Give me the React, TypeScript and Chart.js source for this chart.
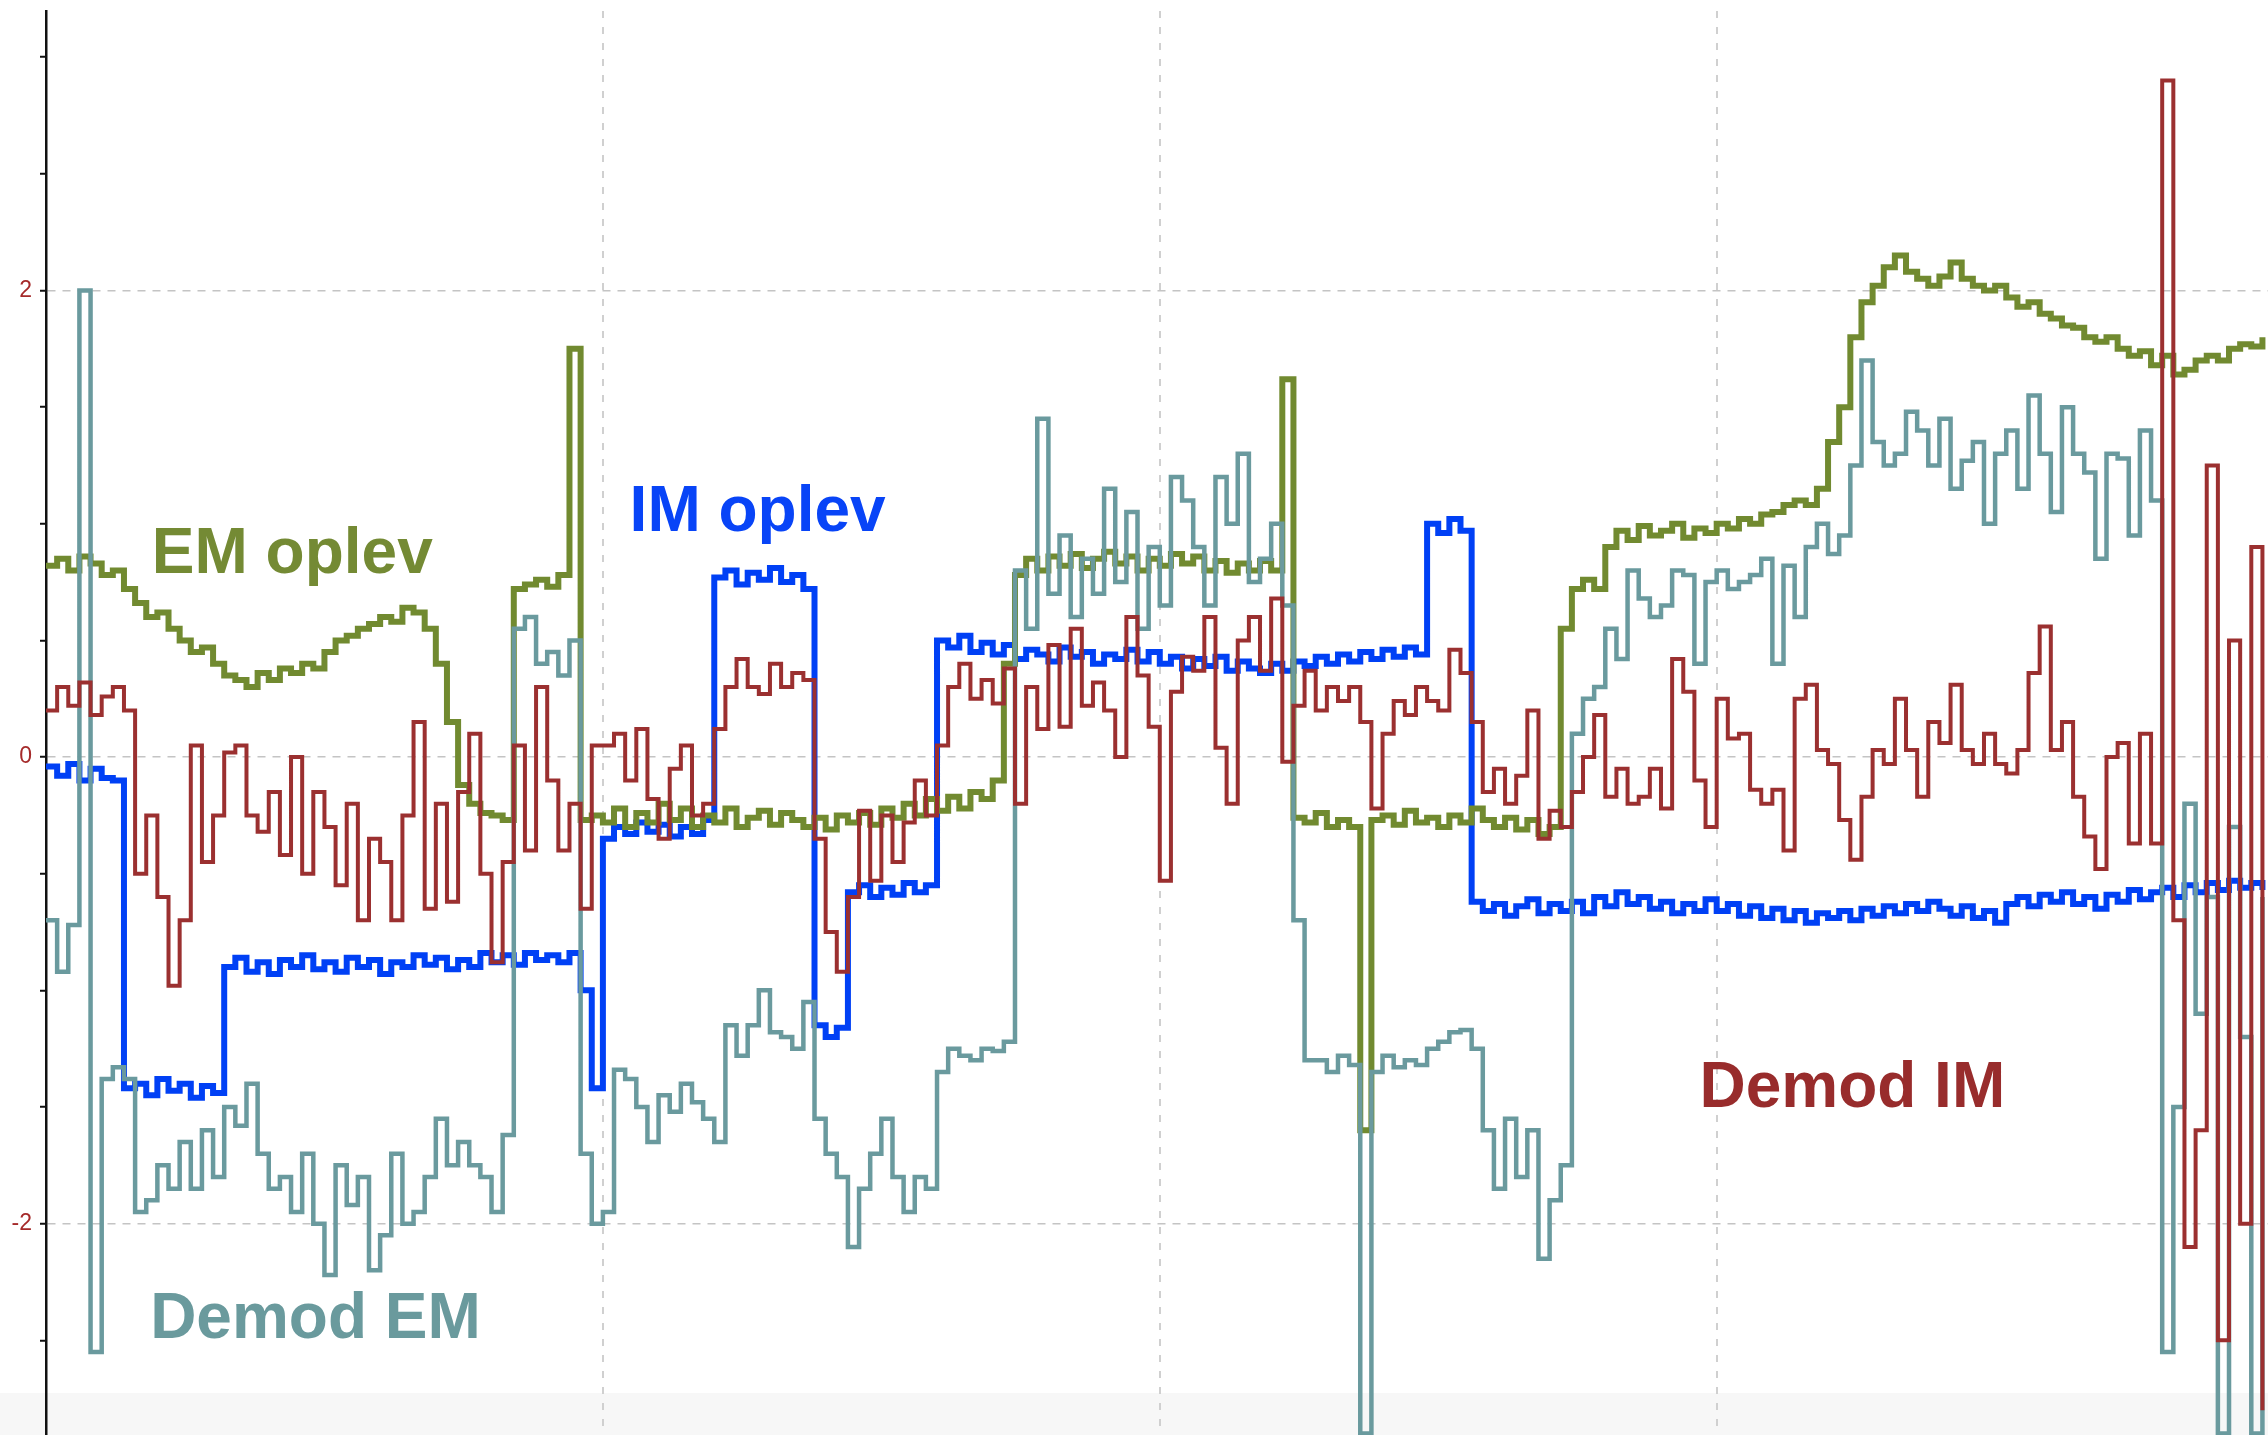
import React, { useEffect, useRef } from 'react';
import { Chart, registerables } from 'chart.js';

Chart.register(...registerables);

// ---- time axis (sample times, arbitrary units; vertical grid every 1.0) ----
const TIME_STEP = 0.02;
const SAMPLE_COUNT = 200;
const TIME: number[] = Array.from({ length: SAMPLE_COUNT }, (_, i) => +(i * TIME_STEP).toFixed(2));

// ---- series values ----
const EM_OPLEV = [
  0.82, 0.85, 0.80, 0.86, 0.83, 0.78, 0.80, 0.72, 0.66, 0.60,
  0.62, 0.55, 0.50, 0.45, 0.47, 0.40, 0.35, 0.33, 0.30, 0.36,
  0.33, 0.38, 0.36, 0.40, 0.38, 0.45, 0.50, 0.52, 0.55, 0.57,
  0.60, 0.58, 0.64, 0.62, 0.55, 0.40, 0.15, -0.12, -0.20, -0.24,
  -0.25, -0.27, 0.72, 0.74, 0.76, 0.73, 0.78, 1.75, -0.27, -0.25,
  -0.28, -0.22, -0.30, -0.24, -0.28, -0.20, -0.27, -0.22, -0.30, -0.25,
  -0.28, -0.22, -0.30, -0.26, -0.23, -0.29, -0.24, -0.27, -0.30, -0.26,
  -0.31, -0.25, -0.28, -0.24, -0.29, -0.22, -0.26, -0.20, -0.25, -0.18,
  -0.23, -0.17, -0.22, -0.15, -0.18, -0.10, 0.40, 0.78, 0.85, 0.80,
  0.86, 0.82, 0.87, 0.81, 0.85, 0.88, 0.83, 0.86, 0.80, 0.85,
  0.82, 0.87, 0.83, 0.86, 0.80, 0.84, 0.79, 0.83, 0.80, 0.84,
  0.80, 1.62, -0.26, -0.28, -0.24, -0.30, -0.27, -0.30, -1.60, -0.27,
  -0.25, -0.29, -0.23, -0.28, -0.26, -0.30, -0.25, -0.28, -0.22, -0.27,
  -0.30, -0.26, -0.31, -0.27, -0.33, -0.30, 0.55, 0.72, 0.76, 0.72,
  0.90, 0.97, 0.93, 0.99, 0.95, 0.97, 1.00, 0.94, 0.98, 0.96,
  1.00, 0.98, 1.02, 1.00, 1.04, 1.05, 1.08, 1.10, 1.08, 1.15,
  1.35, 1.50, 1.80, 1.95, 2.02, 2.10, 2.15, 2.08, 2.05, 2.02,
  2.06, 2.12, 2.05, 2.02, 2.00, 2.02, 1.97, 1.93, 1.95, 1.90,
  1.88, 1.85, 1.84, 1.80, 1.78, 1.80, 1.75, 1.72, 1.74, 1.68,
  1.72, 1.64, 1.66, 1.70, 1.72, 1.70, 1.75, 1.77, 1.76, 1.80,
];

const IM_OPLEV = [
  -0.04, -0.08, -0.03, -0.10, -0.05, -0.09, -0.10, -1.42, -1.40, -1.45,
  -1.38, -1.43, -1.40, -1.46, -1.41, -1.44, -0.90, -0.86, -0.92, -0.88,
  -0.93, -0.87, -0.90, -0.85, -0.91, -0.88, -0.92, -0.86, -0.90, -0.87,
  -0.93, -0.88, -0.90, -0.85, -0.89, -0.86, -0.91, -0.87, -0.90, -0.84,
  -0.88, -0.85, -0.89, -0.84, -0.87, -0.85, -0.88, -0.84, -1.00, -1.42,
  -0.35, -0.30, -0.33, -0.28, -0.32, -0.29, -0.34, -0.30, -0.33, -0.27,
  0.77, 0.80, 0.74, 0.79, 0.76, 0.81, 0.75, 0.78, 0.72, -1.15,
  -1.20, -1.16, -0.58, -0.55, -0.60, -0.56, -0.59, -0.54, -0.58, -0.55,
  0.50, 0.47, 0.52, 0.45, 0.49, 0.44, 0.48, 0.42, 0.46, 0.44,
  0.41, 0.47, 0.43, 0.45, 0.40, 0.44, 0.42, 0.46, 0.41, 0.45,
  0.40, 0.43, 0.38, 0.42, 0.39, 0.43, 0.37, 0.41, 0.38, 0.36,
  0.40, 0.37, 0.41, 0.39, 0.43, 0.40, 0.44, 0.41, 0.45, 0.42,
  0.46, 0.43, 0.47, 0.44, 1.00, 0.96, 1.02, 0.97, -0.62, -0.66,
  -0.63, -0.68, -0.64, -0.61, -0.67, -0.63, -0.66, -0.62, -0.67, -0.60,
  -0.64, -0.58, -0.63, -0.60, -0.65, -0.62, -0.67, -0.63, -0.66, -0.61,
  -0.66, -0.63, -0.68, -0.64, -0.69, -0.65, -0.70, -0.66, -0.71, -0.67,
  -0.69, -0.66, -0.70, -0.65, -0.68, -0.64, -0.67, -0.63, -0.66, -0.62,
  -0.65, -0.68, -0.64, -0.69, -0.66, -0.71, -0.63, -0.60, -0.64, -0.59,
  -0.62, -0.58, -0.63, -0.60, -0.65, -0.59, -0.62, -0.57, -0.61, -0.58,
  -0.56, -0.60, -0.55, -0.58, -0.54, -0.57, -0.53, -0.56, -0.54, -0.57,
];

const DEMOD_IM = [
  0.20, 0.30, 0.22, 0.32, 0.18, 0.26, 0.30, 0.20, -0.50, -0.25,
  -0.60, -0.98, -0.70, 0.05, -0.45, -0.25, 0.02, 0.05, -0.25, -0.32,
  -0.15, -0.42, 0.00, -0.50, -0.15, -0.30, -0.55, -0.20, -0.70, -0.35,
  -0.45, -0.70, -0.25, 0.15, -0.65, -0.20, -0.62, -0.15, 0.10, -0.50,
  -0.88, -0.45, 0.05, -0.40, 0.30, -0.10, -0.40, -0.20, -0.65, 0.05,
  0.05, 0.10, -0.10, 0.12, -0.18, -0.35, -0.05, 0.05, -0.25, -0.20,
  0.12, 0.30, 0.42, 0.30, 0.27, 0.40, 0.30, 0.36, 0.33, -0.35,
  -0.75, -0.92, -0.60, -0.23, -0.53, -0.25, -0.45, -0.28, -0.10, -0.25,
  0.05, 0.30, 0.40, 0.25, 0.33, 0.23, 0.38, -0.20, 0.30, 0.12,
  0.48, 0.13, 0.55, 0.22, 0.32, 0.20, 0.00, 0.60, 0.35, 0.13,
  -0.53, 0.28, 0.43, 0.37, 0.60, 0.04, -0.20, 0.50, 0.60, 0.37,
  0.68, -0.02, 0.22, 0.37, 0.20, 0.30, 0.24, 0.30, 0.15, -0.22,
  0.10, 0.24, 0.18, 0.30, 0.24, 0.20, 0.46, 0.36, 0.15, -0.15,
  -0.05, -0.20, -0.08, 0.20, -0.35, -0.23, -0.30, -0.15, 0.00, 0.18,
  -0.17, -0.05, -0.20, -0.17, -0.05, -0.22, 0.42, 0.28, -0.10, -0.30,
  0.25, 0.08, 0.10, -0.14, -0.20, -0.14, -0.40, 0.25, 0.31, 0.03,
  -0.03, -0.27, -0.44, -0.17, 0.03, -0.03, 0.25, 0.03, -0.17, 0.15,
  0.06, 0.31, 0.03, -0.03, 0.10, -0.03, -0.07, 0.03, 0.36, 0.56,
  0.03, 0.15, -0.17, -0.34, -0.48, 0.00, 0.06, -0.37, 0.10, -0.37,
  2.90, -0.70, -2.10, -1.60, 1.25, -2.50, 0.50, -2.00, 0.90, -2.80,
];

const DEMOD_EM = [
  -0.70, -0.92, -0.72, 2.00, -2.55, -1.38, -1.33, -1.38, -1.95, -1.90,
  -1.75, -1.85, -1.65, -1.85, -1.60, -1.80, -1.50, -1.58, -1.40, -1.70,
  -1.85, -1.80, -1.95, -1.70, -2.00, -2.22, -1.75, -1.92, -1.80, -2.20,
  -2.05, -1.70, -2.00, -1.95, -1.80, -1.55, -1.75, -1.65, -1.75, -1.80,
  -1.95, -1.62, 0.55, 0.60, 0.40, 0.45, 0.35, 0.50, -1.70, -2.00,
  -1.95, -1.34, -1.38, -1.50, -1.65, -1.45, -1.52, -1.40, -1.48, -1.55,
  -1.65, -1.15, -1.28, -1.15, -1.00, -1.18, -1.20, -1.25, -1.05, -1.55,
  -1.70, -1.80, -2.10, -1.85, -1.70, -1.55, -1.80, -1.95, -1.80, -1.85,
  -1.35, -1.25, -1.28, -1.30, -1.25, -1.26, -1.22, 0.80, 0.55, 1.45,
  0.70, 0.95, 0.60, 0.85, 0.70, 1.15, 0.75, 1.05, 0.55, 0.90,
  0.65, 1.20, 1.10, 0.90, 0.65, 1.20, 1.00, 1.30, 0.75, 0.85,
  1.00, 0.65, -0.70, -1.30, -1.30, -1.35, -1.28, -1.32, -2.90, -1.35,
  -1.28, -1.33, -1.30, -1.32, -1.25, -1.22, -1.18, -1.17, -1.25, -1.60,
  -1.85, -1.55, -1.80, -1.60, -2.15, -1.90, -1.75, 0.10, 0.25, 0.30,
  0.55, 0.42, 0.80, 0.68, 0.60, 0.65, 0.80, 0.78, 0.40, 0.75,
  0.80, 0.72, 0.75, 0.78, 0.85, 0.40, 0.82, 0.60, 0.90, 1.00,
  0.87, 0.95, 1.25, 1.70, 1.35, 1.25, 1.30, 1.48, 1.40, 1.25,
  1.45, 1.15, 1.27, 1.35, 1.00, 1.30, 1.40, 1.15, 1.55, 1.30,
  1.05, 1.50, 1.30, 1.22, 0.85, 1.30, 1.28, 0.95, 1.40, 1.10,
  -2.55, -1.50, -0.20, -1.10, -0.60, -2.90, -0.30, -1.20, -2.90, -0.60,
];

// ---- axis configuration ----
const Y_LABELED_TICKS = [-2, 0, 2];
const Y_TICK_STEP = 0.5;
const X_GRID_STEP = 1;
const X_MIN = 0;
const X_MAX = 3.99;
const Y_MIN = -2.906;
const Y_MAX = 3.198;
const BAND_TOP_VALUE = -2.726;

const COLORS = {
  emOplev: '#718a30',
  imOplev: '#0040f5',
  demodIM: '#9b3030',
  demodEM: '#6a9a9e',
};

const SERIES_LABELS = [
  { text: 'EM oplev', color: '#748a34', x: 0.19, y: 0.79 },
  { text: 'IM oplev', color: '#0844f7', x: 1.048, y: 0.969 },
  { text: 'Demod IM', color: '#982c2c', x: 2.969, y: -1.5 },
  { text: 'Demod EM', color: '#6a9a9d', x: 0.187, y: -2.49 },
];

const bandPlugin = {
  id: 'bottomBand',
  beforeDraw(chart: any) {
    const { ctx, width, height, scales } = chart;
    const top = scales.y.getPixelForValue(BAND_TOP_VALUE);
    ctx.save();
    ctx.fillStyle = '#ffffff';
    ctx.fillRect(0, 0, width, height);
    ctx.fillStyle = '#f7f7f7';
    ctx.fillRect(0, top, width, height - top);
    ctx.restore();
  },
};

const labelPlugin = {
  id: 'seriesLabels',
  afterDatasetsDraw(chart: any) {
    const { ctx, scales } = chart;
    ctx.save();
    ctx.font = 'bold 64px "Liberation Sans", Arial, Helvetica, sans-serif';
    ctx.textAlign = 'left';
    ctx.textBaseline = 'alphabetic';
    for (const l of SERIES_LABELS) {
      ctx.fillStyle = l.color;
      ctx.fillText(l.text, scales.x.getPixelForValue(l.x), scales.y.getPixelForValue(l.y));
    }
    ctx.restore();
  },
};

const isLabeled = (v: number) => Y_LABELED_TICKS.some((t) => Math.abs(t - v) < 1e-6);

export default function App() {
  const ref = useRef<HTMLCanvasElement>(null);

  useEffect(() => {
    document.body.style.margin = '0';
    const toPoints = (vals: number[]) => vals.map((y, i) => ({ x: TIME[i], y }));
    const line = (label: string, vals: number[], color: string, width: number) => ({
      label,
      data: toPoints(vals),
      borderColor: color,
      backgroundColor: color,
      borderWidth: width,
      stepped: true as const,
      pointRadius: 0,
      fill: false,
      clip: false as const,
    });

    const chart = new Chart(ref.current as HTMLCanvasElement, {
      type: 'line',
      data: {
        datasets: [
          line('Demod IM', DEMOD_IM, COLORS.demodIM, 4),
          line('Demod EM', DEMOD_EM, COLORS.demodEM, 4.5),
          line('EM oplev', EM_OPLEV, COLORS.emOplev, 6),
          line('IM oplev', IM_OPLEV, COLORS.imOplev, 6),
        ],
      },
      options: {
        animation: false,
        responsive: false,
        devicePixelRatio: 1,
        layout: { padding: { top: 11, left: 0, right: 0, bottom: 0 } },
        plugins: {
          legend: { display: false },
          tooltip: { enabled: false },
          title: { display: false },
        },
        scales: {
          x: {
            type: 'linear',
            min: X_MIN,
            max: X_MAX,
            ticks: { display: false, stepSize: X_GRID_STEP, includeBounds: false },
            grid: { color: '#d0d0d0', lineWidth: 2, drawTicks: false },
            border: { display: false, dash: [7, 9] },
          },
          y: {
            type: 'linear',
            min: Y_MIN,
            max: Y_MAX,
            afterFit: (s: any) => {
              s.width = 46;
              s.paddingTop = 0;
              s.paddingBottom = 0;
            },
            ticks: {
              stepSize: Y_TICK_STEP,
              includeBounds: false,
              padding: 8,
              color: '#a52a2a',
              font: { family: '"Liberation Sans", Arial, sans-serif', size: 23 },
              callback: (v: any) => (isLabeled(Number(v)) ? String(Math.round(Number(v))) : ''),
            },
            grid: {
              color: (ctx: any) => (ctx.tick && isLabeled(ctx.tick.value) ? '#c4c4c4' : 'rgba(0,0,0,0)'),
              lineWidth: 1.5,
              drawTicks: true,
              tickLength: 6,
              tickColor: '#111111',
              tickWidth: 2,
            },
            border: { display: true, color: '#111111', width: 2.5, dash: [8, 7] },
          },
        },
      },
      plugins: [bandPlugin, labelPlugin],
    });
    return () => chart.destroy();
  }, []);

  return (
    <div style={{ position: 'fixed', left: 0, top: 0, width: 2268, height: 1435, background: '#fff' }}>
      <canvas ref={ref} width={2268} height={1435} style={{ display: 'block' }} />
    </div>
  );
}
